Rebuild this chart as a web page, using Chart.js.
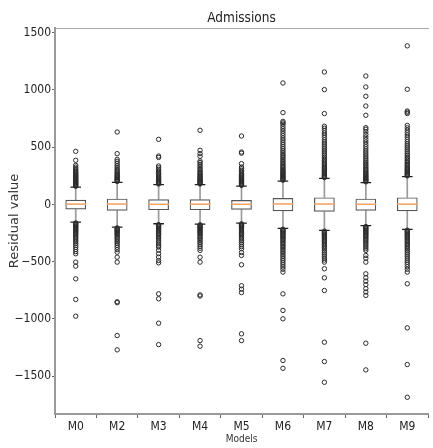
<!DOCTYPE html>
<html>
<head>
<meta charset="utf-8">
<script src="https://cdn.jsdelivr.net/npm/chart.js@4"></script>
<style>
  html, body { margin: 0; padding: 0; overflow: hidden; background: #fff; }
  #wrap { width: 440px; height: 448px; position: relative; }
</style>
</head>
<body>
<div id="wrap"><canvas id="residuals"></canvas></div>
<script>
// BEGIN: DATA
const models = ["M0", "M2", "M3", "M4", "M5", "M6", "M7", "M8", "M9"];
const q1 = [-44, -55, -50, -50, -46, -59, -64, -55, -59];
const median = [2, 3, 1, 2, 1, 4, 3, 1, 2];
const q3 = [41, 50, 44, 44, 38, 55, 61, 50, 61];
const whiskerLow = [-155, -198, -169, -172, -163, -210, -227, -186, -218];
const whiskerHigh = [151, 192, 172, 172, 160, 204, 227, 190, 242];
const yTicks = [-1500, -1000, -500, 0, 500, 1000, 1500];

// fliers per model, above and below the whiskers
const outM0 = [
  158, 164, 171, 177, 183, 190, 197, 203, 210, 217, 224, 231, 238, 246, 254,
  262, 271, 280, 290, 300, 312, 325, 341, 385, 463,
  -162, -168, -175, -182, -189, -196, -203, -211, -219, -227, -236, -245, -255,
  -265, -276, -288, -300, -313, -327, -342, -358, -375, -393, -412, -431, -504,
  -539, -650, -830, -976,
];
const outM2 = [
  200, 207, 215, 222, 230, 238, 246, 255, 264, 274, 285, 297, 310, 325, 340,
  358, 376, 393, 443, 632,
  -205, -212, -220, -228, -236, -245, -254, -264, -275, -287, -300, -313, -327,
  -342, -358, -375, -395, -417, -461, -504, -850, -858, -1145, -1270,
];
const outM3 = [
  178, 185, 192, 199, 206, 214, 222, 230, 239, 248, 258, 268, 280, 292, 305,
  320, 335, 410, 422, 568,
  -176, -183, -190, -198, -206, -214, -223, -232, -242, -252, -263, -275, -288,
  -301, -315, -330, -346, -362, -373, -400, -430, -460, -490, -510, -781, -824,
  -1037, -1224,
];
const outM4 = [
  178, 185, 192, 199, 206, 214, 222, 230, 239, 248, 258, 268, 279, 291, 304,
  318, 333, 350, 365, 379, 420, 443, 472, 647,
  -178, -185, -193, -201, -209, -218, -227, -236, -246, -256, -267, -279, -291,
  -304, -318, -333, -348, -365, -383, -402, -461, -504, -790, -800, -1189,
  -1238,
];
const outM5 = [
  166, 172, 179, 186, 193, 200, 208, 216, 224, 233, 242, 252, 262, 273, 285,
  298, 312, 326, 356, 447, 457, 597,
  -170, -177, -184, -191, -199, -207, -215, -224, -233, -243, -253, -264, -276,
  -289, -303, -318, -334, -351, -369, -387, -420, -446, -527, -710, -740, -770,
  -1130, -1189,
];
const outM6 = [
  211, 218, 226, 234, 242, 250, 259, 268, 277, 287, 297, 308, 319, 330, 342,
  355, 368, 381, 395, 410, 425, 440, 456, 472, 489, 506, 524, 542, 561, 580,
  600, 620, 640, 660, 680, 700, 712, 725, 801, 1060,
  -217, -224, -232, -240, -248, -257, -266, -275, -285, -295, -306, -317, -329,
  -341, -354, -367, -381, -395, -410, -425, -441, -457, -474, -491, -509, -527,
  -546, -566, -591, -781, -926, -999, -1363, -1431,
];
const outM7 = [
  234, 241, 249, 257, 265, 274, 283, 292, 302, 312, 323, 334, 346, 358, 371,
  384, 398, 412, 427, 442, 458, 474, 491, 508, 526, 545, 564, 584, 604, 624,
  645, 665, 682, 793, 1002, 1156,
  -234, -241, -249, -257, -265, -274, -283, -293, -303, -314, -325, -337, -349,
  -362, -375, -389, -404, -419, -435, -452, -469, -486, -504, -562, -641, -752,
  -1203, -1372, -1553,
];
const outM8 = [
  197, 204, 211, 219, 227, 235, 244, 253, 262, 272, 282, 293, 304, 316, 328,
  341, 354, 368, 383, 398, 414, 431, 448, 466, 485, 504, 524, 545, 566, 588,
  610, 633, 656, 670, 778, 859, 944, 1025, 1121,
  -193, -200, -208, -216, -224, -233, -242, -251, -261, -271, -282, -293, -305,
  -317, -330, -343, -357, -372, -387, -402, -446, -470, -504, -606, -640, -670,
  -700, -735, -765, -795, -1212, -1445,
];
const outM9 = [
  249, 256, 264, 272, 280, 289, 298, 307, 317, 327, 338, 349, 361, 373, 386,
  400, 414, 429, 444, 460, 476, 493, 510, 528, 547, 566, 586, 606, 627, 648,
  669, 690, 793, 805, 815, 1005, 1384,
  -225, -232, -240, -248, -256, -265, -274, -283, -293, -303, -314, -325, -337,
  -349, -362, -375, -389, -404, -419, -435, -452, -469, -487, -505, -524, -544,
  -566, -591, -693, -1078, -1398, -1684,
];
const outliers = [outM0, outM2, outM3, outM4, outM5, outM6, outM7, outM8, outM9];
// END: DATA

const condensed = '"DejaVu Sans Condensed", "Liberation Sans Narrow", "DejaVu Sans", sans-serif';

// points helper: one {x, y} per model
const perModel = (values) => models.map((m, i) => ({ x: m, y: values[i] }));

const flierPoints = [];
models.forEach((m, i) => {
  outliers[i].forEach((v) => flierPoints.push({ x: m, y: v }));
});

// BEGIN: BOX PLOT
new Chart(document.getElementById("residuals"), {
  type: "bar",
  data: {
    labels: models,
    datasets: [
      {
        type: "scatter",
        label: "fliers",
        data: flierPoints,
        pointStyle: "circle",
        pointRadius: 2.2,
        borderWidth: 1,
        borderColor: "#2a2a2a",
        backgroundColor: "rgba(255,255,255,0)",
      },
      {
        type: "scatter",
        label: "median",
        data: perModel(median),
        pointStyle: "line",
        pointRadius: 10.4,
        borderWidth: 1.6,
        borderColor: "#f5a567",
      },
      {
        type: "scatter",
        label: "caps",
        data: perModel(whiskerHigh).concat(perModel(whiskerLow)),
        pointStyle: "line",
        pointRadius: 5.3,
        borderWidth: 1.3,
        borderColor: "#1e1e1e",
      },
      {
        label: "box",
        data: q1.map((v, i) => [v, q3[i]]),
        grouped: false,
        barPercentage: 0.5,
        categoryPercentage: 1,
        backgroundColor: "rgba(255,255,255,0)",
        borderColor: "#555",
        borderWidth: 1.2,
        borderSkipped: false,
      },
      {
        label: "upper whisker",
        data: q3.map((v, i) => [v, whiskerHigh[i]]),
        grouped: false,
        barThickness: 1,
        backgroundColor: "#9a9a9a",
      },
      {
        label: "lower whisker",
        data: q1.map((v, i) => [whiskerLow[i], v]),
        grouped: false,
        barThickness: 1,
        backgroundColor: "#9a9a9a",
      },
    ],
  },
  options: {
    responsive: true,
    maintainAspectRatio: false,
    animation: false,
    layout: { padding: 0 },
    plugins: {
      legend: { display: false },
      tooltip: { enabled: false },
    },
    scales: {
      x: {
        type: "category",
        labels: models,
        offset: true,
        grid: { drawOnChartArea: false, tickLength: 4, tickColor: "#666" },
        border: { color: "#999", width: 2 },
        ticks: { font: { family: condensed, size: 12 }, color: "#222", padding: 2 },
        title: {
          display: true,
          text: "Models",
          font: { family: condensed, size: 10 },
          color: "#333",
          padding: { top: 0, bottom: 3 },
        },
        afterFit: (s) => { s.height = 34; },
      },
      x2: {
        type: "category",
        labels: models,
        position: "top",
        offset: true,
        grid: { display: false },
        ticks: { display: false },
        border: { color: "#aaa", width: 1 },
        title: {
          display: true,
          text: "Admissions",
          font: { family: condensed, size: 13.5 },
          color: "#222",
          padding: { top: 10, bottom: 0 },
        },
        afterFit: (s) => { s.height = 28; },
      },
      y: {
        type: "linear",
        min: -1830,
        max: 1540,
        afterBuildTicks: (s) => { s.ticks = yTicks.map((v) => ({ value: v })); },
        grid: { drawOnChartArea: false, tickLength: 3, tickColor: "#666" },
        border: { color: "#999", width: 2 },
        ticks: {
          font: { family: condensed, size: 12 },
          color: "#222",
          padding: 1,
          callback: (v) => String(v).replace("-", "\u2212"),
        },
        title: {
          display: true,
          text: "Residual value",
          font: { family: '"DejaVu Sans", sans-serif', size: 13 },
          color: "#333",
          padding: { top: 7, bottom: 0 },
        },
        afterFit: (s) => { s.width = 55; },
      },
    },
  },
});
// END: BOX PLOT
</script>
</body>
</html>
